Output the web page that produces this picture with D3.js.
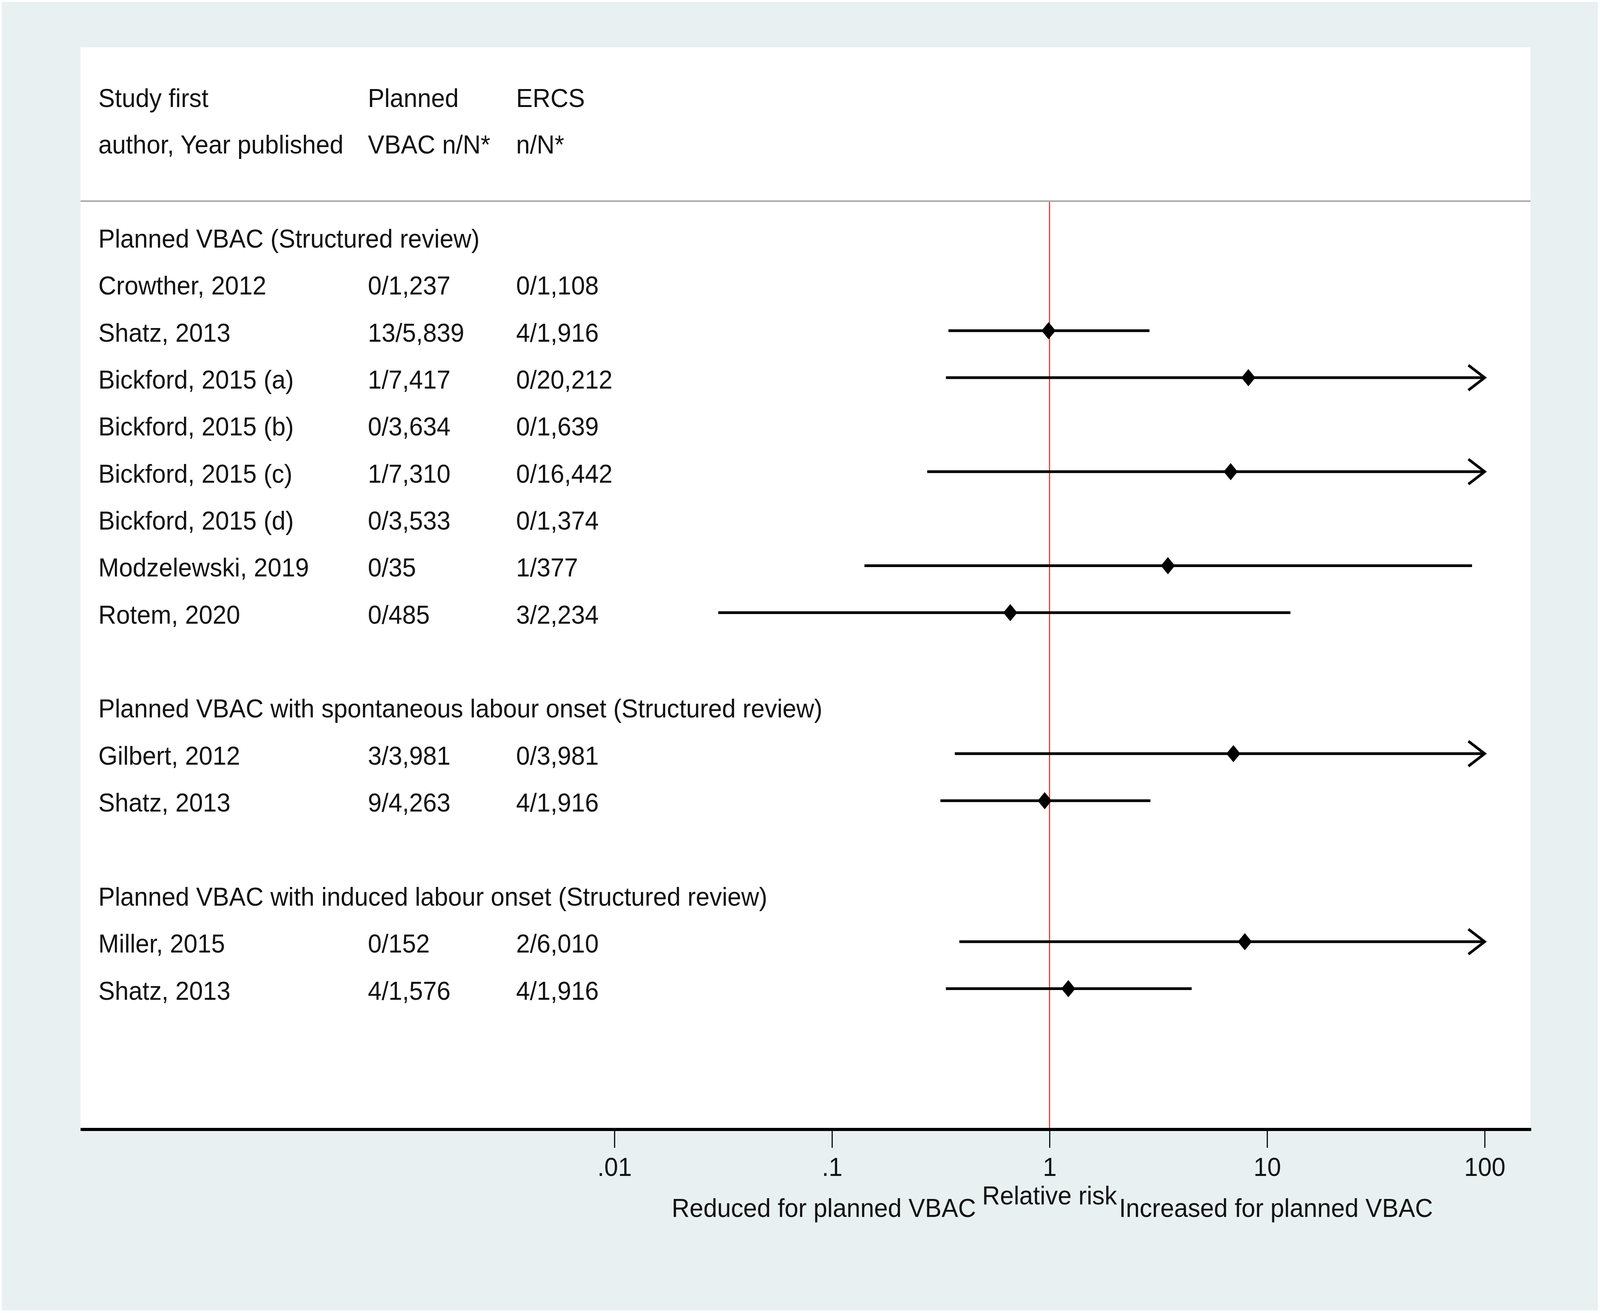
<!DOCTYPE html>
<html>
<head>
<meta charset="utf-8">
<script src="https://cdn.jsdelivr.net/npm/d3@7"></script>
<style>
  html, body { margin: 0; padding: 0; overflow: hidden; background: #fdfefe; }
  #chart { display: block; width: 100vw; height: 100vh; }
  text { font-family: "Liberation Sans", Arial, Helvetica, sans-serif; fill: #111; }
</style>
</head>
<body>
<svg id="chart"></svg>
<script>
const width = 4328;
const height = 3362;

// subgroup titles
const groupTitles = [
  "Planned VBAC (Structured review)",
  "Planned VBAC with spontaneous labour onset (Structured review)",
  "Planned VBAC with induced labour onset (Structured review)"
];

// one entry per study row
const studyGroup = [0, 0, 0, 0, 0, 0, 0, 0, 1, 1, 2, 2];
const studyLabels = [
  "Crowther, 2012", "Shatz, 2013", "Bickford, 2015 (a)", "Bickford, 2015 (b)",
  "Bickford, 2015 (c)", "Bickford, 2015 (d)", "Modzelewski, 2019", "Rotem, 2020",
  "Gilbert, 2012", "Shatz, 2013",
  "Miller, 2015", "Shatz, 2013"
];
const vbacCounts = ["0/1,237", "13/5,839", "1/7,417", "0/3,634", "1/7,310", "0/3,533", "0/35", "0/485",
  "3/3,981", "9/4,263", "0/152", "4/1,576"];
const ercsCounts = ["0/1,108", "4/1,916", "0/20,212", "0/1,639", "0/16,442", "0/1,374", "1/377", "3/2,234",
  "0/3,981", "4/1,916", "2/6,010", "4/1,916"];
// relative risk and 95% CI (null = not estimable, Infinity = beyond plotted range)
const rr     = [null, 0.99, 8.2, null, 6.8, null, 3.5, 0.66, 7.0, 0.95, 7.9, 1.22];
const ciLow  = [null, 0.343, 0.334, null, 0.274, null, 0.141, 0.030, 0.367, 0.315, 0.385, 0.334];
const ciHigh = [null, 2.88, Infinity, null, Infinity, null, 87.5, 12.8, Infinity, 2.91, Infinity, 4.50];

const tickValues = [0.01, 0.1, 1, 10, 100];
const tickLabels = [".01", ".1", "1", "10", "100"];

const svg = d3.select("#chart")
  .attr("viewBox", [0, 0, width, height])
  .attr("preserveAspectRatio", "none");

// backgrounds
svg.append("rect").attr("x", 0).attr("y", 0).attr("width", width).attr("height", height).attr("fill", "#fdfefe");
svg.append("rect").attr("x", 5).attr("y", 5).attr("width", width - 11).attr("height", height - 12).attr("fill", "#e8f0f2");
svg.append("rect").attr("x", 218).attr("y", 121).attr("width", 4140 - 218).attr("height", 2892 - 121).attr("fill", "#ffffff");

// build row list: group title, studies, blank
const rows = [];
groupTitles.forEach((t, g) => {
  if (g > 0) rows.push({ type: "blank" });
  rows.push({ type: "title", label: t });
  studyGroup.forEach((sg, i) => {
    if (sg === g) rows.push({ type: "study", i });
  });
});

const x = d3.scaleLog().domain([0.01, 100]).range([1662, 4016]);
const y = d3.scaleLinear().domain([0, rows.length - 1]).range([634, 634 + (rows.length - 1) * 120.35]);
const lineOffset = 28;

const fontSize = 67;

// header
const header = svg.append("g").attr("font-size", fontSize);
[["Study first", "author, Year published", 266], ["Planned", "VBAC n/N*", 995], ["ERCS", "n/N*", 1396]]
  .forEach(([a, b, cx]) => {
    header.append("text").attr("x", cx).attr("y", 274).text(a);
    header.append("text").attr("x", cx).attr("y", 393).text(b);
  });

svg.append("line")
  .attr("x1", 218).attr("x2", 4140).attr("y1", 515).attr("y2", 515)
  .attr("stroke", "#a9a9a9").attr("stroke-width", 4);

// reference line at RR = 1
svg.append("line")
  .attr("x1", x(1)).attr("x2", x(1)).attr("y1", 517).attr("y2", 2890)
  .attr("stroke", "#e3342b").attr("stroke-width", 3);

// row texts
const rowG = svg.append("g").attr("font-size", fontSize);
rows.forEach((r, k) => {
  if (r.type === "title") {
    rowG.append("text").attr("x", 266).attr("y", y(k)).text(r.label);
  } else if (r.type === "study") {
    rowG.append("text").attr("x", 266).attr("y", y(k)).text(studyLabels[r.i]);
    rowG.append("text").attr("x", 995).attr("y", y(k)).text(vbacCounts[r.i]);
    rowG.append("text").attr("x", 1396).attr("y", y(k)).text(ercsCounts[r.i]);
  }
});

// confidence intervals and point estimates
const studyRows = rows.map((r, k) => ({ ...r, k })).filter(r => r.type === "study" && rr[r.i] != null);
const marks = svg.append("g");
const xMax = x.range()[1];

marks.selectAll("line.ci")
  .data(studyRows)
  .join("line")
  .attr("class", "ci")
  .attr("x1", d => x(ciLow[d.i]))
  .attr("x2", d => isFinite(ciHigh[d.i]) ? x(ciHigh[d.i]) : xMax)
  .attr("y1", d => y(d.k) - lineOffset)
  .attr("y2", d => y(d.k) - lineOffset)
  .attr("stroke", "#000")
  .attr("stroke-width", 7);

// arrow heads for intervals running off the scale
marks.selectAll("path.arrow")
  .data(studyRows.filter(d => !isFinite(ciHigh[d.i])))
  .join("path")
  .attr("class", "arrow")
  .attr("d", d => {
    const yy = y(d.k) - lineOffset;
    return `M${xMax - 44},${yy - 32}L${xMax},${yy}L${xMax - 44},${yy + 32}`;
  })
  .attr("fill", "none")
  .attr("stroke", "#000")
  .attr("stroke-width", 7);

marks.selectAll("path.pt")
  .data(studyRows)
  .join("path")
  .attr("class", "pt")
  .attr("d", "M0,-22L19,0L0,22L-19,0Z")
  .attr("transform", d => `translate(${x(rr[d.i])},${y(d.k) - lineOffset})`)
  .attr("fill", "#000");

// x axis
const axisY = 2892;
svg.append("line")
  .attr("x1", 218).attr("x2", 4142).attr("y1", axisY).attr("y2", axisY)
  .attr("stroke", "#000").attr("stroke-width", 8);

const axis = svg.append("g")
  .attr("transform", `translate(0,${axisY})`)
  .call(d3.axisBottom(x)
    .tickValues(tickValues)
    .tickFormat((d, i) => tickLabels[i])
    .tickSize(47)
    .tickPadding(24));
axis.select(".domain").remove();
axis.selectAll(".tick line").attr("stroke", "#000").attr("stroke-width", 3);
axis.selectAll(".tick text")
  .attr("font-size", fontSize)
  .attr("font-family", "\"Liberation Sans\", Arial, Helvetica, sans-serif")
  .attr("fill", "#111");

const lab = svg.append("g").attr("font-size", fontSize).attr("text-anchor", "middle");
lab.append("text").attr("x", x(1)).attr("y", 3084).text("Relative risk");
lab.append("text").attr("x", x(0.1) - 22).attr("y", 3116).text("Reduced for planned VBAC");
lab.append("text").attr("x", x(10) + 24).attr("y", 3116).text("Increased for planned VBAC");
</script>
</body>
</html>
